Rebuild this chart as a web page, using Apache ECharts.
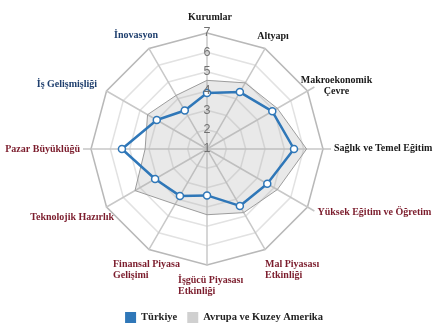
<!DOCTYPE html>
<html><head><meta charset="utf-8">
<script src="https://cdn.jsdelivr.net/npm/echarts@6/dist/echarts.min.js"></script>
<style>html,body{margin:0;padding:0;background:#fff}#c{width:448px;height:327px}</style>
</head><body><div id="c"></div>
<script>
// Categories in clockwise order starting at the top
const categories = ['Kurumlar','Altyapı','Makroekonomik\nÇevre','Sağlık ve Temel Eğitim','Yüksek Eğitim ve Öğretim','Mal Piyasası\nEtkinliği','İşgücü Piyasası\nEtkinliği','Finansal Piyasa\nGelişimi','Teknolojik Hazırlık','Pazar Büyüklüğü','İş Gelişmişliği','İnovasyon'];
const labelGroup = ['k','k','k','k','r','r','r','r','r','r','b','b'];
const turkiye = [3.9, 4.4, 4.9, 5.5, 4.6, 4.4, 3.4, 3.8, 4.1, 5.4, 4.0, 3.3];
const avrupa  = [4.55, 4.95, 5.2, 6.15, 5.2, 4.8, 4.4, 4.3, 5.3, 4.2, 4.55, 4.2];
const tickLabels = ['1','2','3','4','5','6','7'];
const seriesNames = ['Türkiye','Avrupa ve Kuzey Amerika'];

// ---- layout / style (not data) ----
const CX = 207, CY = 149, R = 116;
const groupColor = {k: '#1a1a1a', r: '#7b1c2c', b: '#1f3f6e'};
// per-label nudges relative to the spoke end: [dx, dy, align]
const nameLayout = [
  [3, -16, 'center'], [8, -12.5, 'center'], [29, -5, 'center'], [11, -1, 'left'],
  [10, 5, 'left'], [0, 20, 'left'], [-29, 21, 'left'], [-36, 20, 'left'],
  [7.5, 10, 'right'], [-11, 0, 'right'], [-9.5, -7, 'right'], [-13, -13.5, 'center']
];
const leaderIdx = [2, 3, 4, 9];

// ECharts radar runs counter-clockwise: reorder so chart reads clockwise
const N = categories.length;
const order = [0].concat(Array.from({length: N - 1}, (_, i) => N - 1 - i));
const indicator = order.map(i => ({name: categories[i], min: 1, max: 7}));
const reorder = arr => order.map(i => arr[i]);

const serif = '"Liberation Serif", "DejaVu Serif", serif';
const graphics = [];
categories.forEach((name, i) => {
  const a = i * 2 * Math.PI / N;
  const ex = CX + R * Math.sin(a), ey = CY - R * Math.cos(a);
  const [dx, dy, al] = nameLayout[i];
  graphics.push({
    type: 'text', x: ex + dx, y: ey + dy, silent: true,
    style: {text: name, fill: groupColor[labelGroup[i]], font: 'bold 10px ' + serif,
            align: al, verticalAlign: 'middle', lineHeight: 11}
  });
  if (leaderIdx.includes(i)) {
    graphics.push({
      type: 'line', silent: true,
      shape: {x1: ex, y1: ey, x2: CX + (R + 8) * Math.sin(a), y2: CY - (R + 8) * Math.cos(a)},
      style: {stroke: '#c4c4c4', lineWidth: 1.5}
    });
  }
});

const chart = echarts.init(document.getElementById('c'), null, {renderer: 'canvas'});
chart.setOption({
  backgroundColor: '#fff',
  animation: false,
  legend: {
    data: [
      {name: seriesNames[0], itemStyle: {color: '#2f77b8', borderWidth: 0}},
      {name: seriesNames[1], itemStyle: {color: '#d0d0d0', borderWidth: 0}}
    ],
    bottom: 4, left: 'center', padding: 0,
    itemWidth: 11, itemHeight: 11, itemGap: 10,
    icon: 'rect',
    textStyle: {fontFamily: serif, fontWeight: 'bold', fontSize: 10.5, color: '#222'}
  },
  radar: {
    center: [CX, CY], radius: R,
    shape: 'polygon', splitNumber: 6, startAngle: 90,
    indicator: indicator,
    axisName: {show: false},
    axisLine: {lineStyle: {color: '#c8c8c8', width: 1.5}},
    splitLine: {lineStyle: {color: ['#e2e2e2','#e2e2e2','#e2e2e2','#e2e2e2','#e2e2e2','#e2e2e2','#b8b8b8'], width: 1.5}},
    splitArea: {show: false}
  },
  polar: {center: [CX, CY], radius: R},
  angleAxis: {show: false, min: 0, max: 360, startAngle: 90},
  radiusAxis: {
    type: 'value', min: 1, max: 7, interval: 1, z: 10,
    axisLine: {show: false}, axisTick: {show: false}, splitLine: {show: false},
    axisLabel: {
      margin: 0, align: 'center', verticalAlign: 'middle',
      fontFamily: '"Liberation Sans", Arial, sans-serif', fontSize: 12.5, color: '#707070',
      formatter: v => tickLabels[v - 1]
    }
  },
  graphic: graphics,
  series: [
    {
      type: 'radar', name: seriesNames[1],
      symbol: 'none',
      lineStyle: {color: '#9c9c9c', width: 1},
      areaStyle: {color: 'rgba(165,165,165,0.35)'},
      itemStyle: {color: '#d0d0d0'},
      data: [{value: reorder(avrupa), name: seriesNames[1]}],
      z: 2
    },
    {
      type: 'radar', name: seriesNames[0],
      symbol: 'circle', symbolSize: 7,
      lineStyle: {color: '#2f77b8', width: 2.5},
      itemStyle: {color: '#fff', borderColor: '#2f77b8', borderWidth: 1.5},
      data: [{value: reorder(turkiye), name: seriesNames[0]}],
      z: 3
    }
  ]
});
</script></body></html>
